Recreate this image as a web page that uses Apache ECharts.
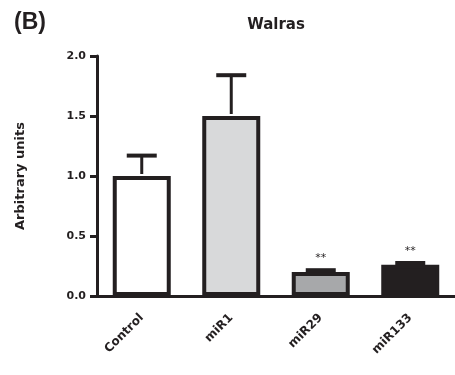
<!DOCTYPE html>
<html><head><meta charset="utf-8">
<script src="https://cdn.jsdelivr.net/npm/echarts@6/dist/echarts.min.js"></script>
<style>html,body{margin:0;padding:0;background:#fff}#c{width:455px;height:375px}</style>
</head><body><div id="c"></div>
<script>
var categories = ['Control', 'miR1', 'miR29', 'miR133'];
var means = [1.0, 1.5, 0.2, 0.26];
var errors = [0.17, 0.34, 0.015, 0.015];
var stars = ['', '', '**', '**'];
var barColors = ['#ffffff', '#d8d9da', '#a7a8aa', '#231f20'];
var yTicks = [0, 0.5, 1.0, 1.5, 2.0];

var ink = '#231f20';
var font = 'DejaVu Sans, Verdana, sans-serif';
var chart = echarts.init(document.getElementById('c'), null, {renderer: 'canvas'});
chart.setOption({
  animation: false,
  backgroundColor: '#fff',
  title: [
    {text: '(B)', left: 9, top: 6, textStyle: {fontFamily: 'Liberation Sans, Arial', fontWeight: 'bold', fontSize: 23, color: ink}},
    {text: 'Walras', left: 271, textAlign: 'center', top: 13, textStyle: {fontFamily: font, fontWeight: 'bold', fontSize: 15, color: ink}}
  ],
  grid: {left: 97, right: -3, top: 56, bottom: 79},
  xAxis: {
    type: 'category', data: categories,
    axisLine: {lineStyle: {color: ink, width: 3}},
    axisTick: {alignWithLabel: true, length: 7, lineStyle: {color: ink, width: 3}},
    axisLabel: {rotate: 45, margin: 20, fontFamily: font, fontWeight: 'bold', fontSize: 12, color: ink}
  },
  yAxis: {
    type: 'value', min: yTicks[0], max: yTicks[yTicks.length - 1], interval: 0.5,
    name: 'Arbitrary units', nameLocation: 'middle', nameGap: 70, nameRotate: 90,
    nameTextStyle: {fontFamily: font, fontWeight: 'bold', fontSize: 13, color: ink},
    axisLine: {show: true, lineStyle: {color: ink, width: 3}},
    axisTick: {show: true, length: 7, lineStyle: {color: ink, width: 3}},
    splitLine: {show: false},
    axisLabel: {margin: 11, formatter: function (v) { return v.toFixed(1); }, fontFamily: font, fontWeight: 'bold', fontSize: 11, color: ink}
  },
  series: [
    {
      type: 'bar', barWidth: 58, z: 2,
      data: means.map(function (v, i) {
        return {value: v, itemStyle: {color: barColors[i], borderColor: ink, borderWidth: 4}};
      })
    },
    {
      type: 'custom', z: 3,
      data: means.map(function (v, i) { return [i, v, v + errors[i], stars[i]]; }),
      renderItem: function (params, api) {
        var x = api.value(0);
        var base = api.coord([x, api.value(1)]);
        var top = api.coord([x, api.value(2)]);
        var children = [
          {type: 'line', shape: {x1: base[0], y1: base[1] - 2, x2: top[0], y2: top[1]}, style: {stroke: ink, lineWidth: 3}},
          {type: 'line', shape: {x1: top[0] - 15, y1: top[1], x2: top[0] + 15, y2: top[1]}, style: {stroke: ink, lineWidth: 4}}
        ];
        var s = stars[params.dataIndex];
        if (s) {
          children.push({type: 'text', style: {text: s, x: top[0], y: top[1] - 12, textAlign: 'center', textVerticalAlign: 'middle', fontFamily: font, fontSize: 11, fill: ink}});
        }
        return {type: 'group', children: children};
      }
    }
  ]
});
</script></body></html>
